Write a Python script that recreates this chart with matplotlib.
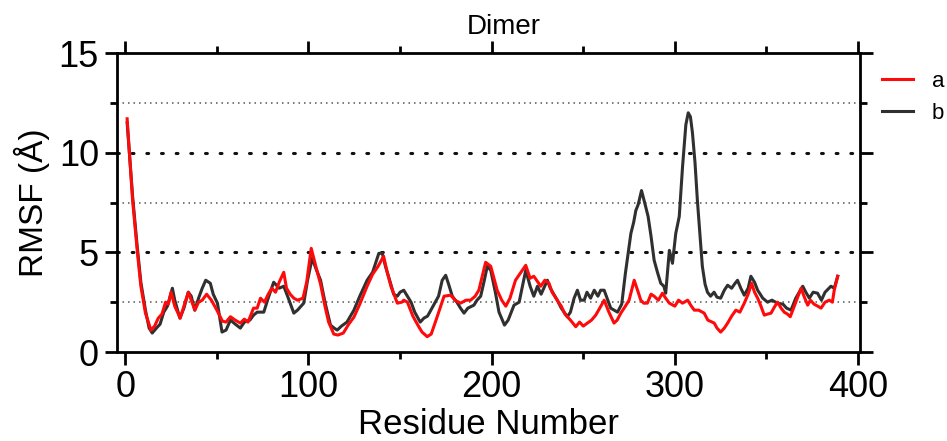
#!/usr/bin/env python3
import matplotlib
matplotlib.use("Agg")
import matplotlib.pyplot as plt
from matplotlib.ticker import MultipleLocator

############ Data (residue number, RMSF in angstrom)
res_a = [1, 4, 6.5, 8.5, 11, 14, 16, 18, 20, 22, 23.5, 25, 27, 30, 32, 34.4, 36, 38, 40, 42,
         44.4, 47, 50, 53, 55, 57.4, 60, 62.8, 65, 67, 70, 72, 73.8, 76, 78, 80, 82, 84, 86.5, 88,
         90, 92, 94, 97, 99, 101.5, 104, 106.6, 109, 111, 113.8, 116, 119, 122, 124.8, 128, 132, 135, 138, 141,
         143, 145, 148.5, 151, 152, 154, 157, 160, 162, 164.8, 167, 170, 174, 177.6, 180, 183, 186, 188.5, 191, 193,
         196.7, 199.5, 203, 205.5, 207.7, 210, 213, 216, 218.6, 221, 223, 226.8, 229, 231.3, 233, 235.8, 238, 240, 243, 245.9,
         248, 250, 252.3, 254.5, 256.8, 259, 261.4, 264, 266.8, 268.5, 270.5, 273, 275, 277.8, 280, 281.4, 283, 285, 287, 288.7,
         291, 293.2, 295, 297, 300, 302, 304.2, 307, 309, 310.6, 313, 316, 318, 321.5, 323, 325, 327, 328.8, 331, 333.3,
         335.5, 337.9, 340, 341.9, 343.5, 345.2, 347, 348.8, 350.5, 352.5, 354, 356, 358, 359.7, 361.5, 363, 366, 368.9, 370.5, 372.5,
         374, 376, 378, 379.8, 382, 384.3, 386, 387, 388.9]
rmsf_a = [11.7, 7.6, 5.1, 3.3, 1.95, 1.1, 1.3, 1.7, 1.9, 2.5, 2.4, 3.0, 2.3, 1.7, 2.3, 3.0, 2.6, 2.1, 2.5, 2.6,
          2.9, 2.6, 2.1, 1.55, 1.5, 1.77, 1.6, 1.45, 1.65, 1.5, 2.2, 2.2, 2.7, 2.5, 2.9, 3.2, 3.0, 3.5, 4.0, 3.2,
          2.9, 2.7, 2.6, 2.7, 3.5, 5.2, 4.3, 3.4, 2.3, 1.5, 0.9, 0.85, 0.95, 1.4, 1.75, 2.4, 3.3, 3.9, 4.3, 4.8,
          4.0, 3.3, 2.45, 2.5, 2.6, 2.5, 1.8, 1.3, 1.0, 0.77, 0.9, 1.7, 2.8, 2.85, 2.6, 2.45, 2.6, 2.6, 2.8, 3.1,
          4.5, 4.3, 3.1, 2.6, 2.3, 2.7, 3.6, 4.0, 4.35, 3.7, 3.8, 3.3, 3.6, 3.45, 3.0, 2.6, 2.3, 1.9, 1.6, 1.27,
          1.5, 1.3, 1.45, 1.6, 1.85, 2.2, 2.6, 2.0, 1.45, 1.6, 1.95, 2.3, 2.6, 3.6, 3.0, 2.6, 2.45, 2.45, 2.9, 2.8,
          2.6, 2.95, 2.7, 2.45, 2.3, 2.6, 2.45, 2.6, 2.3, 2.1, 2.1, 1.95, 1.6, 1.45, 1.2, 1.0, 1.2, 1.45, 1.8, 2.1,
          2.0, 2.45, 2.9, 3.45, 3.0, 2.7, 2.3, 1.85, 1.9, 1.95, 2.2, 2.5, 2.2, 2.0, 1.9, 1.77, 2.5, 3.2, 2.8, 2.35,
          2.6, 2.4, 2.3, 2.2, 2.5, 2.6, 2.5, 3.1, 3.8]

res_b = [1, 4, 6.5, 8.5, 11, 13, 14.7, 17, 19, 21, 23, 25.7, 27, 29.8, 32, 34.4, 36, 37.9, 40, 42,
         43.9, 46.4, 48, 50.3, 52.8, 55, 57.4, 60, 62.8, 65, 68, 70, 72, 75.6, 78, 81, 84, 86.5, 89, 92,
         94, 97.4, 99.5, 102, 104, 106.6, 109, 112, 114, 115.7, 118, 121, 124.8, 128, 132, 135, 138.4, 140.3, 142, 144.8,
         146.5, 148.5, 150, 152, 154, 156, 158, 161, 163, 165, 168, 171, 173, 174.9, 176.5, 178.5, 181, 183, 184.9, 187,
         190.3, 192, 194, 196, 197.6, 199.5, 202, 204, 207, 209, 212.2, 215, 218.6, 221, 223, 225, 227, 230.4, 232, 235.8,
         238, 241.3, 243, 245, 246.8, 248.5, 250.5, 252, 254, 256, 258, 259.5, 261.4, 263, 265, 268.7, 271, 273, 276, 277.5,
         278.7, 280, 281.8, 283.5, 285.4, 287, 288.7, 290.5, 292.3, 294, 295, 297, 298.7, 300.5, 302.4, 304.2, 306, 307.3, 308.5, 309.6,
         311, 312.3, 314, 315, 316.5, 317.8, 319.5, 321.4, 323, 325, 327, 328.8, 331, 332.5, 334.2, 336, 337.9, 340, 341.5, 343.5,
         345.2, 348, 350.6, 353, 356, 359, 361, 363.4, 366, 369.8, 371.5, 373.4, 375.5, 377.9, 380, 382, 385.2, 387, 388.9]
rmsf_b = [11.5, 7.8, 5.3, 3.5, 2.1, 1.2, 0.95, 1.2, 1.4, 2.0, 2.3, 3.2, 2.6, 1.7, 2.2, 3.0, 2.8, 2.1, 2.7, 3.2,
          3.6, 3.45, 2.9, 2.45, 1.0, 1.1, 1.6, 1.4, 1.2, 1.5, 1.6, 1.85, 2.0, 2.0, 2.7, 3.5, 3.2, 3.3, 2.7, 1.95,
          2.1, 2.45, 3.6, 4.7, 4.2, 3.6, 2.5, 1.35, 1.2, 1.1, 1.3, 1.5, 2.1, 2.8, 3.6, 4.0, 4.95, 4.95, 4.3, 3.45,
          2.9, 2.8, 3.0, 3.1, 2.8, 2.5, 2.0, 1.5, 1.7, 1.8, 2.3, 2.8, 3.6, 3.85, 3.4, 2.8, 2.5, 2.2, 1.95, 2.2,
          2.35, 2.6, 2.8, 3.6, 4.3, 4.1, 3.0, 2.0, 1.35, 1.6, 2.35, 2.5, 4.1, 3.3, 2.8, 3.3, 2.9, 3.6, 3.2, 2.6,
          2.2, 1.77, 2.0, 2.7, 3.1, 2.6, 2.6, 3.0, 2.7, 3.1, 2.8, 3.1, 3.1, 2.7, 2.2, 2.0, 2.4, 3.95, 5.95, 6.5,
          7.1, 7.4, 8.1, 7.5, 6.8, 5.8, 4.6, 4.0, 3.45, 3.3, 2.95, 5.1, 4.45, 5.95, 6.8, 9.3, 11.4, 12.0, 11.8, 11.0,
          9.5, 7.6, 5.5, 4.3, 3.4, 3.0, 2.8, 3.0, 2.75, 2.7, 3.1, 3.35, 3.2, 3.4, 3.6, 3.2, 2.85, 3.2, 3.8, 3.5,
          3.1, 2.7, 2.5, 2.6, 2.45, 2.4, 2.2, 2.1, 2.7, 3.3, 3.0, 2.7, 3.0, 2.95, 2.6, 3.0, 3.3, 3.2, 3.8]

x_ticks = [0, 100, 200, 300, 400]
y_ticks = [0, 5, 10, 15]

############ Plot
plt.rcParams['font.family'] = ['Liberation Sans', 'DejaVu Sans']

fig = plt.figure(figsize=(9.47, 4.41), dpi=100)
ax = fig.add_axes([0.1236, 0.2018, 0.7844, 0.678])

# dotted gridlines: heavy at 5 / 10, light at 2.5 / 7.5 / 12.5
for y in [5, 10]:
    ax.axhline(y, color='#111111', lw=2.2, ls=(0, (0.6, 4.2)), dash_capstyle='round', zorder=1)
for y in [2.5, 7.5, 12.5]:
    ax.axhline(y, color='#555555', lw=1.1, ls=(0, (1, 2.6)), zorder=1)

ax.plot(res_b, rmsf_b, color='#303030', lw=2.2, label='b', zorder=3)
ax.plot(res_a, rmsf_a, color='#ff0a0a', lw=2.2, label='a', zorder=4)

ax.set_xlim(-4.5, 401)
ax.set_ylim(0, 15)
ax.set_xticks(x_ticks)
ax.set_yticks(y_ticks)
ax.xaxis.set_minor_locator(MultipleLocator(50))
ax.yaxis.set_minor_locator(MultipleLocator(2.5))
ax.tick_params(which='both', direction='out', width=2, top=True, right=True,
               labelsize=26, pad=4)
ax.tick_params(which='major', length=9)
ax.tick_params(which='minor', length=5)
for s in ax.spines.values():
    s.set_linewidth(2)

ax.set_xlabel('Residue Number', fontsize=25, labelpad=2)
ax.set_ylabel('RMSF (Å)', fontsize=24, labelpad=6)
ax.set_title('Dimer', fontsize=20, pad=14, x=0.52)

handles, labels = ax.get_legend_handles_labels()
ax.legend(handles[::-1], labels[::-1], loc='upper left', bbox_to_anchor=(1.0175, 0.97),
          frameon=False, fontsize=16, handlelength=1.4, handletextpad=0.85,
          labelspacing=0.5, borderaxespad=0)

plt.savefig('out.png', dpi=100)
